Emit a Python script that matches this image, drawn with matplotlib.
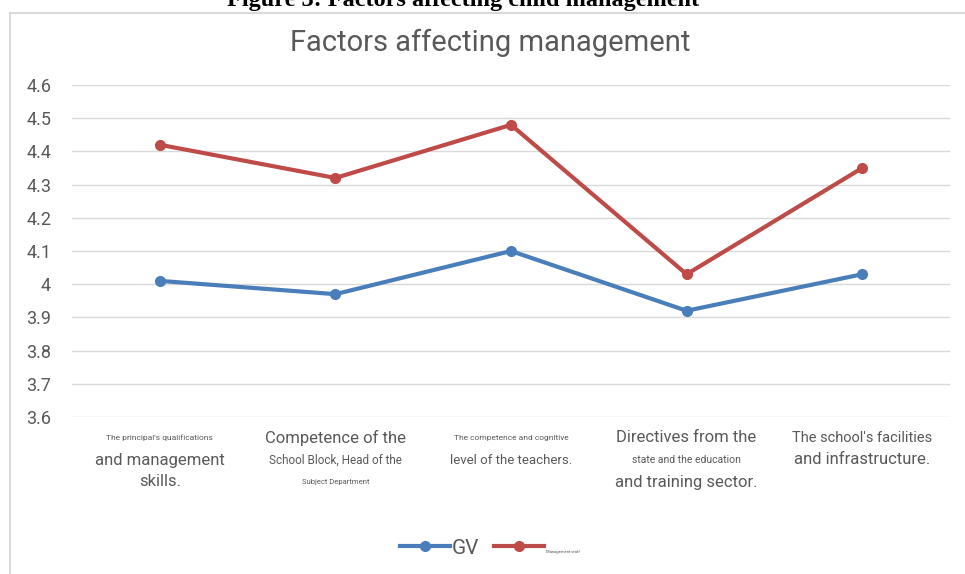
import matplotlib
matplotlib.use("Agg")
import matplotlib.pyplot as plt
from matplotlib.patches import Rectangle
from matplotlib.lines import Line2D

# data
label_lines = [
    ["The principal's qualifications", "and management", "skills."],
    ["Competence of the", "School Block, Head of the", "Subject Department"],
    ["The competence and cognitive", "level of the teachers."],
    ["Directives from the", "state and the education", "and training sector."],
    ["The school's facilities", "and infrastructure."],
]
gv = [4.01, 3.97, 4.10, 3.92, 4.03]
staff = [4.42, 4.32, 4.48, 4.03, 4.35]
series_names = ["GV", "Management staff"]
yticks = [3.6, 3.7, 3.8, 3.9, 4.0, 4.1, 4.2, 4.3, 4.4, 4.5, 4.6]

# font size of each label line (style, kept apart from the text)
line_sizes = [
    [6.0, 12.0, 12.0],
    [12.0, 8.5, 5.5],
    [6.0, 9.5],
    [12.0, 7.5, 12.0],
    [10.5, 12.0],
]
line_offsets = [21, 43, 65]

blue = "#4a7ebb"
red = "#be4b48"
grey_txt = "#595959"

plt.rcParams["font.family"] = ["Roboto", "DejaVu Sans"]

fig = plt.figure(figsize=(9.65, 5.74), dpi=100)
ax = fig.add_axes([72/965, 1-417/574, 878/965, 332/574])

# chart frame (only left and top edges show)
fig.patches.append(Rectangle((10/965, -0.05), 1.1, 1-13/574+0.05,
                             transform=fig.transFigure, fill=False,
                             edgecolor="#d9d9d9", linewidth=1.5))

x = list(range(len(gv)))
ax.plot(x, gv, color=blue, lw=3, marker="o", ms=7, zorder=3)
ax.plot(x, staff, color=red, lw=3, marker="o", ms=7, zorder=3)

ax.set_xlim(-0.5, len(gv) - 0.5)
ax.set_ylim(3.6, 4.6)
ax.set_yticks(yticks)
ax.set_yticklabels(["4" if abs(v - 4) < 1e-9 else f"{v:.1f}" for v in yticks])
ax.tick_params(axis="y", length=0, labelsize=13, labelcolor=grey_txt, pad=15)
ax.set_xticks([])
ax.grid(axis="y", color="#d9d9d9", lw=1)
ax.set_axisbelow(True)
for s in ax.spines.values():
    s.set_visible(False)

for i, lines in enumerate(label_lines):
    for j, txt in enumerate(lines):
        ax.annotate(txt, xy=(i, 0), xycoords=ax.get_xaxis_transform(),
                    xytext=(0, -line_offsets[j]), textcoords="offset pixels",
                    ha="center", va="center", fontsize=line_sizes[i][j],
                    color=grey_txt)

fig.text(490/965, 1-43/574, "Factors affecting management", ha="center",
         va="center", fontsize=21, color=grey_txt)
fig.text(463/965, 1-6/574, "Figure 3: Factors affecting child management",
         ha="center", va="baseline", fontsize=17.5, fontweight="bold",
         family="Liberation Serif", color="black")

handles = [Line2D([], [], color=blue, lw=3, marker="o", ms=7),
           Line2D([], [], color=red, lw=3, marker="o", ms=7)]
leg = fig.legend(handles, series_names, loc="center",
                 bbox_to_anchor=(490/965, 1-548/574), ncol=2, frameon=False,
                 fontsize=15, handlelength=2.4, handletextpad=0.1,
                 columnspacing=0.7)
for t in leg.get_texts():
    t.set_color(grey_txt)
leg.get_texts()[1].set_fontsize(3)

fig.savefig("out.png", dpi=100)
